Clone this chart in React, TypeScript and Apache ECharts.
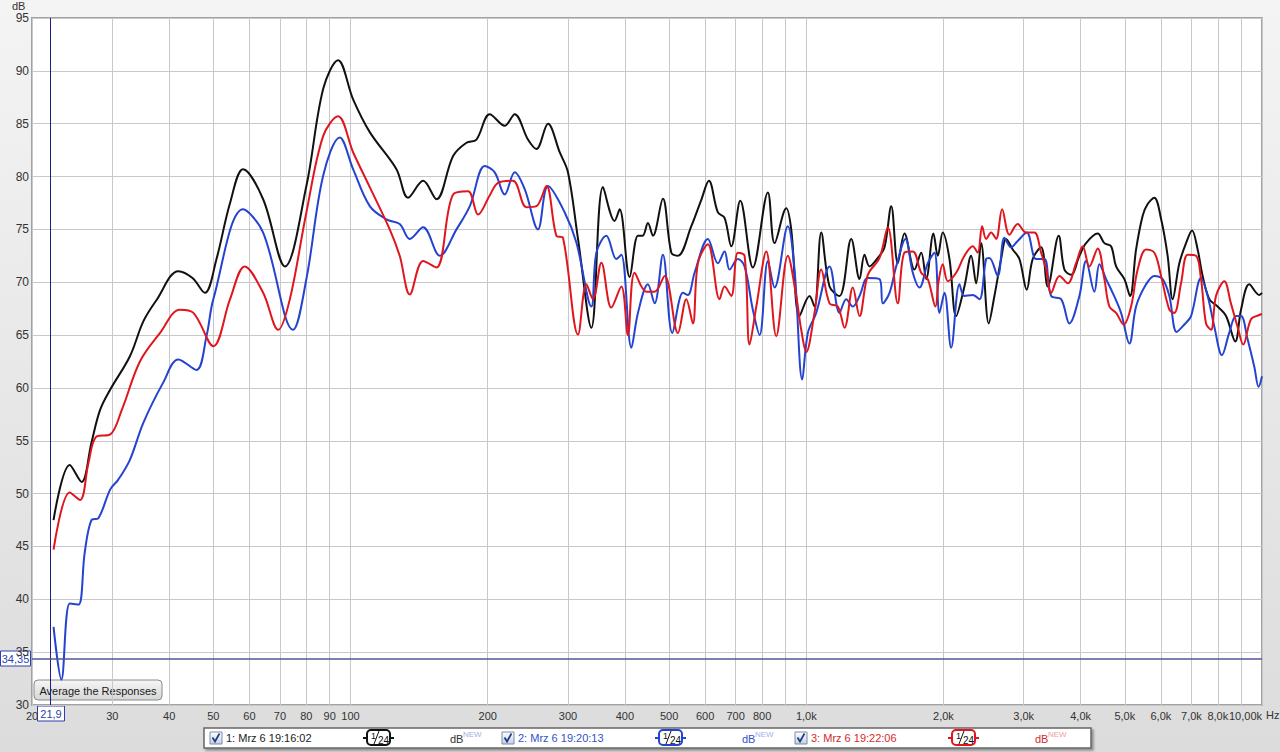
import React, { useEffect, useRef } from 'react';
import * as echarts from 'echarts';

// Frequency grid (Hz) and labelled frequencies
const gridFreqs = [20, 30, 40, 50, 60, 70, 80, 90, 100, 200, 300, 400, 500, 600, 700, 800, 900, 1000, 2000, 3000, 4000, 5000, 6000, 7000, 8000, 9000, 10000];
const labelFreqs = [20, 30, 40, 50, 60, 70, 80, 90, 100, 200, 300, 400, 500, 600, 700, 800, 1000, 2000, 3000, 4000, 5000, 6000, 7000, 8000, 10000];

// Measurement 1 (black)
const blackHz = [22.3, 24.2, 25.7, 27.0, 28.2, 29.7, 32.8, 35.1, 37.5, 41.9, 45.0, 47.9, 50.8, 54.4, 58.1, 64.3, 71.8, 80.0, 87.1, 93.9, 101.3, 110.2, 126.1, 133.7, 144.3, 154.4, 167.9, 179.6, 188.9, 202.0, 217.9, 229.2, 245.1, 255.8, 271.2, 287.7, 300.0, 315.6, 337.6, 358.0, 379.7, 389.5, 409.6, 427.2, 437.4, 449.3, 460.8, 484.6, 505.7, 522.8, 559.4, 588.4, 611.4, 639.8, 661.8, 684.6, 716.4, 763.4, 823.7, 852.0, 903.7, 926.8, 966.5, 1016.6, 1042.5, 1078.4, 1124.7, 1183, 1255, 1308.8, 1342.2, 1376.5, 1435.5, 1484.9, 1536, 1587.9, 1642.5, 1727.7, 1787.2, 1832.8, 1901.5, 1943.3, 1992.9, 2061.6, 2132.5, 2223.6, 2300.2, 2359, 2419.2, 2514, 2587.4, 2676.5, 2744.9, 2837.8, 2935.6, 3045.8, 3139.6, 3275.8, 3386.8, 3580, 3684.6, 3811.4, 3974.6, 4111.4, 4360, 4509.8, 4665, 4784.4, 4989.2, 5134.8, 5292.8, 5472.2, 5612, 5805, 6004.6, 6208, 6367, 6586, 6812.8, 7022.4, 7224, 7408.6, 7663.8, 7992, 8338, 8739, 8994, 9378.8, 9864.8, 10000];
const blackDb = [47.5, 52.7, 51.1, 54.8, 57.9, 59.85, 63.0, 66.3, 68.3, 71.05, 70.4, 69.0, 72.2, 77.5, 80.7, 77.85, 71.5, 79.1, 88.3, 91.0, 87.3, 84.2, 80.7, 78.0, 79.6, 77.85, 81.95, 83.2, 83.5, 85.9, 84.8, 85.9, 83.5, 82.6, 85.0, 82.3, 80.4, 74.1, 65.7, 79.0, 75.8, 76.9, 70.5, 74.4, 74.4, 75.6, 74.4, 77.9, 72.8, 72.5, 75.3, 77.8, 79.6, 76.6, 76.1, 73.4, 77.7, 71.4, 78.5, 73.7, 77.0, 75.0, 66.8, 68.7, 67.7, 74.7, 69.6, 68.7, 74.1, 70.3, 72.6, 71.5, 72.3, 73.3, 77.2, 71.8, 74.6, 71.2, 72.8, 70.3, 74.6, 72.5, 74.7, 72.2, 66.8, 69.6, 72.5, 69.9, 73.7, 66.1, 68.7, 72.2, 74.1, 73.1, 72.2, 69.3, 72.2, 73.3, 69.6, 74.4, 71.2, 70.7, 72.5, 73.7, 74.6, 73.7, 73.4, 71.5, 70.3, 68.7, 73.1, 76.3, 77.4, 78.0, 76.0, 72.5, 68.4, 71.8, 73.7, 74.9, 73.1, 70.6, 68.4, 67.7, 66.8, 64.4, 67.4, 69.8, 68.8, 69.0];

// Measurement 2 (blue)
const blueHz = [22.3, 23.2, 24.2, 25.3, 26.1, 27.0, 28.0, 29.7, 30.9, 32.8, 35.1, 38.8, 41.9, 45.9, 48.3, 50.0, 58.1, 64.3, 74.8, 80.0, 87.1, 94.7, 101.3, 110.2, 119.9, 128.2, 134.9, 144.3, 157.0, 170.8, 182.7, 197.0, 207.2, 217.9, 229.2, 241.1, 257.8, 271.2, 295.1, 313.0, 337.6, 346.3, 364.2, 383.0, 392.8, 413.2, 427.2, 449.3, 464.7, 484.6, 508.2, 536.2, 549.9, 568.8, 608.3, 639.8, 661.8, 678.8, 707.8, 732.2, 763.4, 789.9, 823.7, 852.0, 911.0, 942.4, 979.8, 1007.9, 1051.5, 1124.7, 1183, 1223.7, 1265.2, 1308.8, 1364.8, 1447.9, 1472.2, 1522.9, 1575.1, 1650.8, 1713, 1771.9, 1847.8, 1911.1, 1960, 2010.1, 2079.3, 2168.5, 2223.6, 2318.9, 2398.7, 2481.2, 2522.9, 2630.8, 2721.3, 2814.8, 2910.2, 3045.8, 3194, 3330.8, 3445.2, 3624.4, 3779, 3974.6, 4111.4, 4287.6, 4397.2, 4548.6, 4702.8, 4906, 5116.6, 5292.8, 5566.8, 5805, 6053.2, 6261.4, 6496.8, 6754.4, 6987.2, 7349, 7598.4, 7859.6, 8167, 8473.6, 8770.4, 8994, 9298.6, 9618.4, 9829.6, 10000];
const blueDb = [37.4, 32.4, 39.6, 39.5, 44.4, 47.5, 47.7, 50.4, 51.3, 53.2, 56.7, 60.5, 62.7, 61.7, 64.9, 68.4, 76.9, 74.7, 65.5, 70.3, 80.1, 83.7, 80.7, 77.2, 75.95, 75.5, 74.1, 75.2, 72.5, 75.0, 77.2, 81.0, 80.4, 78.3, 80.4, 78.8, 75.0, 79.1, 76.6, 73.75, 67.7, 72.8, 74.4, 72.2, 72.6, 63.8, 67.1, 69.8, 68.0, 72.6, 65.2, 69.0, 68.8, 70.9, 74.1, 71.8, 72.9, 71.2, 72.2, 71.5, 67.4, 65.0, 72.0, 69.5, 75.3, 71.2, 60.8, 65.2, 67.1, 71.5, 67.1, 68.4, 67.7, 68.7, 70.4, 70.3, 68.0, 69.0, 71.5, 74.1, 70.9, 69.5, 71.8, 72.8, 67.1, 69.0, 63.8, 69.8, 68.7, 68.8, 68.4, 72.2, 72.3, 70.6, 74.2, 73.3, 73.9, 74.7, 72.2, 72.2, 68.7, 68.4, 66.1, 68.7, 72.0, 69.1, 71.7, 70.3, 69.0, 67.1, 64.2, 67.7, 69.8, 70.6, 70.3, 68.7, 65.3, 66.0, 66.8, 70.4, 68.7, 65.8, 63.1, 65.2, 66.8, 66.8, 64.6, 62.0, 60.1, 61.1];

// Measurement 3 (red)
const redHz = [22.3, 24.2, 25.5, 26.6, 27.7, 29.7, 31.5, 34.5, 38.2, 42.2, 45.2, 50.0, 54.4, 58.6, 64.3, 69.4, 73.6, 80.0, 87.1, 93.9, 101.3, 110.2, 121.9, 128.2, 134.9, 144.3, 154.4, 167.9, 181.1, 190.5, 202.0, 210.7, 227.2, 243.1, 255.8, 269.0, 282.9, 292.5, 315.6, 329.2, 340.4, 355.1, 373.4, 392.8, 406.1, 420.1, 445.6, 464.7, 488.8, 522.8, 545.5, 563.9, 578.4, 608.3, 645.3, 661.8, 684.6, 707.8, 732.2, 750.8, 776.9, 817.0, 859.3, 911.0, 950.5, 974.8, 999.8, 1042.5, 1078.4, 1124.7, 1172.9, 1213.3, 1265.2, 1308.8, 1364.8, 1447.9, 1509.9, 1587.9, 1642.5, 1713, 1787.2, 1847.8, 1920.8, 1950, 1992.9, 2043.8, 2132.5, 2223.6, 2318.9, 2378, 2431.4, 2481.2, 2544.8, 2609.6, 2690, 2790.6, 2910.2, 3036.8, 3166.6, 3275.8, 3359.6, 3445.2, 3593.6, 3747.6, 3908.8, 4041.4, 4180.8, 4360, 4509.8, 4625.2, 4784.4, 4971.6, 5160.6, 5335.8, 5566.8, 5805, 6004.6, 6261.4, 6422, 6642.4, 6868, 7165.8, 7349, 7537.2, 7730, 7925.4, 8266.8, 8546.8, 8837.4, 9097.2, 9459.6, 9864.8, 10000];
const redDb = [44.7, 50.1, 49.4, 52.9, 55.4, 55.6, 57.95, 62.5, 65.2, 67.4, 67.1, 63.95, 68.4, 71.5, 69.0, 65.5, 68.4, 76.6, 83.85, 85.7, 82.3, 79.0, 75.0, 72.5, 68.85, 72.0, 71.4, 78.3, 78.6, 76.4, 78.2, 79.4, 79.6, 77.1, 77.2, 79.1, 74.4, 74.2, 65.05, 69.8, 68.4, 71.85, 67.6, 69.6, 65.0, 70.9, 69.1, 69.1, 70.6, 65.2, 68.4, 66.1, 71.8, 73.6, 68.4, 69.6, 68.7, 72.8, 72.5, 64.1, 67.7, 72.9, 64.9, 72.5, 68.7, 65.5, 63.4, 67.1, 71.2, 68.0, 67.7, 65.7, 69.5, 66.8, 70.7, 72.3, 75.2, 68.0, 72.8, 72.9, 70.9, 70.3, 67.7, 70.0, 71.7, 70.1, 70.9, 72.5, 73.4, 72.8, 75.3, 74.1, 74.7, 74.1, 76.9, 74.5, 75.5, 74.7, 74.7, 72.8, 71.2, 69.0, 70.6, 69.9, 71.8, 73.4, 71.5, 73.2, 70.3, 67.7, 67.1, 66.0, 67.7, 71.2, 73.1, 72.8, 70.6, 67.4, 67.1, 69.9, 72.6, 72.5, 70.3, 66.1, 65.5, 68.7, 70.1, 68.0, 65.8, 64.1, 66.5, 66.9, 67.0];

// Cursor position
const cursorHz = 21.9;
const cursorDb = 34.35;

// Legend entries
const legendNames = ['1: Mrz 6 19:16:02', '2: Mrz 6 19:20:13', '3: Mrz 6 19:22:06'];
const seriesColors = ['#111111', '#2443d0', '#e0161e'];
const legendTextColors = ['#222222', '#3152c8', '#d42a2a'];
const newColors = ['#a6b0dc', '#9fb0e8', '#f0a0a0'];

const FONT = "'Liberation Sans', Arial, sans-serif";

function fmtHz(v: number) {
  const f = Math.round(v);
  if (f >= 10000) return '10,00k';
  if (f >= 1000) return (f / 1000).toFixed(1).replace('.', ',') + 'k';
  return String(f);
}

function legendItem(i: number, ox: number) {
  const c = seriesColors[i];
  return [
    {
      type: 'rect', shape: { x: ox, y: 732, width: 12, height: 12 },
      style: {
        fill: { type: 'linear', x: 0, y: 0, x2: 0, y2: 1, colorStops: [{ offset: 0, color: '#ffffff' }, { offset: 1, color: '#c4d0e2' }] },
        stroke: '#7a8ca8', lineWidth: 1,
      },
    },
    {
      type: 'polyline', shape: { points: [[ox + 2.5, 737.5], [ox + 5, 741.5], [ox + 9.5, 733.5]] },
      style: { stroke: '#1d3a8a', lineWidth: 1.7, fill: 'none' },
    },
    {
      type: 'text', x: ox + 16, y: 738,
      style: { text: legendNames[i], fill: legendTextColors[i], font: `11px ${FONT}`, verticalAlign: 'middle' },
    },
    { type: 'line', shape: { x1: ox + 153, y1: 738, x2: ox + 184, y2: 738 }, style: { stroke: c, lineWidth: 2 } },
    {
      type: 'rect', shape: { x: ox + 157, y: 730, width: 23, height: 15, r: 4 },
      style: { fill: '#ffffff', stroke: c, lineWidth: 2 },
    },
    { type: 'text', x: ox + 161, y: 731, style: { text: '1', fill: '#111', font: `9px ${FONT}` } },
    { type: 'line', shape: { x1: ox + 164, y1: 744, x2: ox + 169, y2: 731 }, style: { stroke: '#111', lineWidth: 1 } },
    { type: 'text', x: ox + 168, y: 735, style: { text: '24', fill: '#111', font: `10px ${FONT}` } },
    {
      type: 'text', x: ox + 240, y: 739,
      style: { text: 'dB', fill: i === 0 ? '#333333' : legendTextColors[i], font: `11px ${FONT}`, verticalAlign: 'middle' },
    },
    {
      type: 'text', x: ox + 253, y: 734,
      style: { text: 'NEW', fill: newColors[i], font: `8px ${FONT}`, verticalAlign: 'middle' },
    },
  ];
}

export default function App() {
  const ref = useRef<HTMLDivElement>(null);
  useEffect(() => {
    const chart = echarts.init(ref.current as HTMLDivElement, null, { renderer: 'svg' });
    const mk = (hz: number[], db: number[]) => hz.map((f, i) => [f, db[i]]);
    const seriesData = [mk(blackHz, blackDb), mk(blueHz, blueDb), mk(redHz, redDb)];

    const legendOffsets = [210, 502, 795];
    const legendGraphics: any[] = [
      {
        type: 'rect', shape: { x: 204, y: 728, width: 887, height: 20 },
        style: { fill: '#ffffff', stroke: '#666666', lineWidth: 1.5, shadowColor: 'rgba(0,0,0,0.35)', shadowBlur: 2, shadowOffsetX: 2, shadowOffsetY: 2 },
      },
    ];
    legendOffsets.forEach((ox, i) => legendGraphics.push(...legendItem(i, ox)));

    const option: any = {
      animation: false,
      backgroundColor: { type: 'linear', x: 0, y: 0, x2: 0, y2: 1, colorStops: [{ offset: 0, color: '#f4f4f4' }, { offset: 1, color: '#dcdcdc' }] },
      grid: {
        left: 32, right: 18, top: 18, bottom: 47, containLabel: false,
        show: true, backgroundColor: '#ffffff', borderColor: '#a2a2a2', borderWidth: 2,
      },
      xAxis: {
        type: 'log', logBase: 10, min: 20, max: 10000,
        axisLine: { show: false },
        axisTick: { show: false, customValues: gridFreqs },
        splitLine: { show: true, lineStyle: { color: '#c8c8c8', width: 1 } },
        minorSplitLine: { show: false },
        axisLabel: {
          customValues: labelFreqs, formatter: (v: number) => fmtHz(v),
          color: '#333333', fontSize: 11, fontFamily: FONT, margin: 5,
          showMinLabel: true, showMaxLabel: true, alignMaxLabel: 'right',
        },
      },
      yAxis: {
        type: 'value', min: 30, max: 95, interval: 5,
        axisLine: { show: false }, axisTick: { show: false },
        splitLine: { show: true, lineStyle: { color: '#c8c8c8', width: 1 } },
        axisLabel: { color: '#333333', fontSize: 12, fontFamily: FONT, margin: 3 },
      },
      series: seriesData.map((d, i) => ({
        type: 'line', data: d, showSymbol: false, smooth: 0.35, silent: true,
        lineStyle: { color: seriesColors[i], width: 2 },
        itemStyle: { color: seriesColors[i] },
        z: 3 + i,
        markLine: i === 0 ? {
          silent: true, symbol: ['none', 'none'], label: { show: false }, animation: false,
          data: [
            { xAxis: cursorHz, lineStyle: { color: '#1e1e84', width: 1, type: 'solid' } },
            { yAxis: cursorDb, lineStyle: { color: '#55559a', width: 1.5, type: 'solid' } },
          ],
        } : undefined,
      })),
      graphic: [
        { type: 'text', x: 12, y: 0, style: { text: 'dB', fill: '#333333', font: `11px ${FONT}` } },
        { type: 'text', x: 1266, y: 709, style: { text: 'Hz', fill: '#333333', font: `11px ${FONT}` } },
        {
          type: 'group', children: [
            { type: 'rect', shape: { x: 0.5, y: 651, width: 30, height: 15 }, style: { fill: '#ffffff', stroke: '#2c3fae', lineWidth: 1 } },
            { type: 'text', x: 15.5, y: 658.5, style: { text: '34,35', fill: '#2c3fae', font: `11px ${FONT}`, align: 'center', verticalAlign: 'middle' } },
          ],
        },
        {
          type: 'group', children: [
            { type: 'rect', shape: { x: 37.5, y: 706, width: 27, height: 15 }, style: { fill: '#ffffff', stroke: '#2c3fae', lineWidth: 1 } },
            { type: 'text', x: 51, y: 713.5, style: { text: '21,9', fill: '#2c3fae', font: `11px ${FONT}`, align: 'center', verticalAlign: 'middle' } },
          ],
        },
        {
          type: 'group', children: [
            {
              type: 'rect', shape: { x: 34, y: 680, width: 128, height: 20, r: 4 },
              style: {
                fill: { type: 'linear', x: 0, y: 0, x2: 0, y2: 1, colorStops: [{ offset: 0, color: '#f6f6f6' }, { offset: 1, color: '#d6d6d6' }] },
                stroke: '#8a8a8a', lineWidth: 1,
              },
            },
            { type: 'text', x: 98, y: 690.5, style: { text: 'Average the Responses', fill: '#1a1a1a', font: `11px ${FONT}`, align: 'center', verticalAlign: 'middle' } },
          ],
        },
        ...legendGraphics,
      ],
    };
    chart.setOption(option);
    return () => chart.dispose();
  }, []);
  return <div ref={ref} style={{ position: 'absolute', left: 0, top: 0, width: 1280, height: 752 }} />;
}
